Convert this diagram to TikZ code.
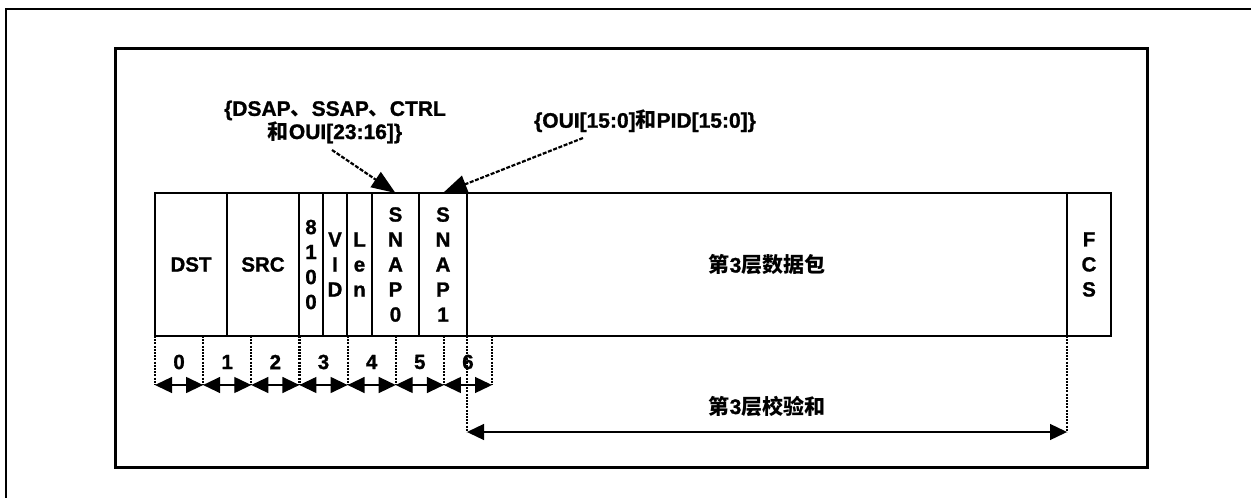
\documentclass[tikz,border=0pt]{standalone}
\usepackage{fontspec}
\setmainfont{Liberation Sans}[BoldFeatures={FakeBold=1.2}]
\newfontfamily\cjk{Noto Sans CJK SC}
\usetikzlibrary{arrows.meta,calc}
\begin{document}
\begin{tikzpicture}[x=1pt,y=-1pt,
  font=\fontsize{20.5}{25}\selectfont\bfseries,
  cell/.style={draw, line width=1.3pt, minimum height=143pt, inner sep=0pt, outer sep=0pt, align=center},
  lbl/.style={inner sep=0pt, align=center},
  lab/.style={inner sep=0pt, align=center, font=\fontsize{21}{22}\selectfont\bfseries},
  big/.style={font=\fontsize{21}{26}\selectfont\bfseries},
  dots/.style={line width=2.2pt, dash pattern=on 2pt off 1.2pt},
  dasharrow/.style={line width=2.2pt, dash pattern=on 4pt off 1.6pt, -{Triangle[length=24pt,width=18pt]}},
  dimarrow/.style={line width=1.3pt, {Triangle[length=17pt,width=16pt]}-{Triangle[length=17pt,width=16pt]}},
  frame/.style={line width=2.6pt},
  inner/.style={line width=3pt}]
\useasboundingbox (0,0) rectangle (1251,498);
% frames
\coordinate (ftl) at (6,9);
\coordinate (ftr) at (1251,9);
\coordinate (fbl) at (6,498);
\draw[frame] (fbl) -- (ftl) -- (ftr);
\coordinate (ia) at (115,48);
\coordinate (ib) at (1147,467);
\draw[inner] (ia) rectangle (ib);
% cells
\node[cell, minimum width=72pt] (dst) at (191,264.5) {DST};
\node[cell, minimum width=72pt] (src) at (263,264.5) {SRC};
\node[cell, minimum width=24pt] (tpid) at (311,264.5) {8\\1\\0\\0};
\node[cell, minimum width=24pt] (vid) at (335,264.5) {V\\I\\D};
\node[cell, minimum width=25pt] (len) at (359.5,264.5) {L\\e\\n};
\node[cell, minimum width=47pt] (snap0) at (395.5,264.5) {S\\N\\A\\P\\0};
\node[cell, minimum width=48pt] (snap1) at (443,264.5) {S\\N\\A\\P\\1};
\node[cell, minimum width=600pt, big] (l3) at (767,264.5) {{\cjk 第}3{\cjk 层数据包}};
\node[cell, minimum width=44pt] (fcs) at (1089,264.5) {F\\C\\S};
% labels with arrows
\node[lab] (lab1) at (335,122) {\{DSAP{\cjk 、}SSAP{\cjk 、}CTRL\\{\cjk 和}OUI[23:16]\}};
\node[lab] (lab2) at (645,121) {\{OUI[15:0]{\cjk 和}PID[15:0]\}};
\coordinate (a1) at (332,150);
\coordinate (a2) at (583,138);
\draw[dasharrow] (a1) -- (snap0.north);
\draw[dasharrow] (a2) -- (snap1.north);
% byte scale
\foreach \i/\x in {0/155,1/203.1,2/251.3,3/299.4,4/347.6,5/395.7,6/443.9,7/492}{
  \coordinate (t\i) at (\x,336);
  \coordinate (b\i) at (\x,385);
  \draw[dots] (t\i) -- (b\i);
}
\foreach \i/\j in {0/1,1/2,2/3,3/4,4/5,5/6,6/7}{
  \draw[dimarrow] (b\i) -- (b\j);
  \node[lbl] (n\i) at ($(b\i)!0.5!(b\j)+(0,-23)$) {\i};
}
% checksum span
\coordinate (c1) at (467,432);
\coordinate (c2) at (1067,432);
\draw[dots] (l3.south west) -- (c1);
\draw[dots] (l3.south east) -- (c2);
\draw[dimarrow] (c1) -- (c2);
\node[lbl, big] (cks) at (767,406) {{\cjk 第}3{\cjk 层校验和}};
\end{tikzpicture}
\end{document}
